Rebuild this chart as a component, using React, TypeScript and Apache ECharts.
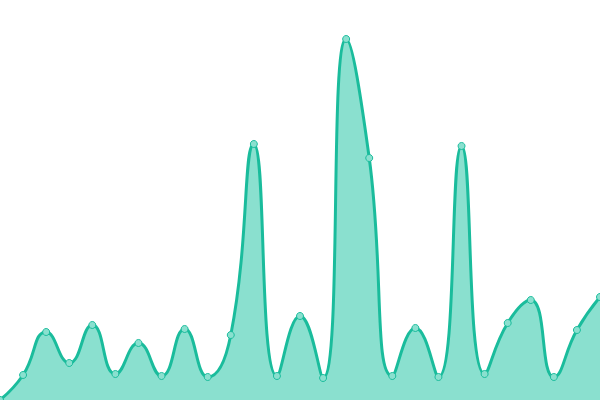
import React, { useEffect, useRef } from "react";
import * as echarts from "echarts";

const categories: string[] = [
  "1", "2", "3", "4", "5", "6", "7", "8", "9", "10", "11", "12", "13", "14",
  "15", "16", "17", "18", "19", "20", "21", "22", "23", "24", "25", "26", "27",
];

const values: number[] = [
  0, 25, 68, 37, 75, 26, 57, 24, 71, 23, 65, 256, 24, 84, 22, 361, 242, 24,
  72, 23, 254, 26, 77, 100, 23, 70, 103,
];

const LINE = "#1abc9c";

export default function App() {
  const ref = useRef<HTMLDivElement>(null);
  useEffect(() => {
    document.body.style.margin = "0";
    const chart = echarts.init(ref.current!, undefined, { renderer: "svg" });
    chart.setOption({
      animation: false,
      grid: { left: 0, right: 0, top: 0, bottom: 0 },
      xAxis: {
        type: "category",
        data: categories,
        boundaryGap: false,
        show: false,
      },
      yAxis: { type: "value", min: 0, max: 400, show: false },
      series: [
        {
          type: "line",
          data: values,
          smooth: true,
          symbol: "circle",
          symbolSize: 7,
          showSymbol: true,
          lineStyle: { color: LINE, width: 3 },
          itemStyle: { color: "#8ae0cf", borderColor: LINE, borderWidth: 1 },
          areaStyle: { color: "#8ae0cf", opacity: 1 },
        },
      ],
    });
    return () => chart.dispose();
  }, []);
  return (
    <div
      ref={ref}
      style={{ position: "fixed", left: 0, top: 0, width: 600, height: 400 }}
    />
  );
}
